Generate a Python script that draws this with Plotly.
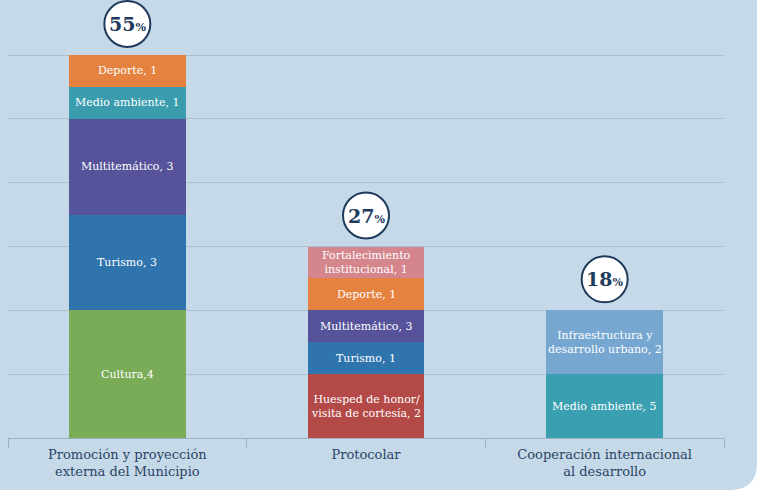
import plotly.graph_objects as go

categories = ["Promoción y proyección<br>externa del Municipio", "Protocolar",
              "Cooperación internacional<br>al desarrollo"]
percentages = [55, 27, 18]

promo_labels = ["Cultura,4", "Turismo, 3", "Multitemático, 3", "Medio ambiente, 1", "Deporte, 1"]
promo_heights = [4, 3, 3, 1, 1]
promo_colors = ["#7aab56", "#2f74ad", "#56539a", "#3a9cad", "#e5823f"]

proto_labels = ["Huesped de honor/<br>visita de cortesía, 2", "Turismo, 1", "Multitemático, 3",
                "Deporte, 1", "Fortalecimiento<br>institucional, 1"]
proto_heights = [2, 1, 1, 1, 1]
proto_colors = ["#b44a47", "#2f74ad", "#56539a", "#e5823f", "#d4868c"]

coop_labels = ["Medio ambiente, 5", "Infraestructura y<br>desarrollo urbano, 2"]
coop_heights = [2, 2]
coop_colors = ["#3a9fb0", "#76a7d1"]

groups = [
    (categories[0], promo_labels, promo_heights, promo_colors),
    (categories[1], proto_labels, proto_heights, proto_colors),
    (categories[2], coop_labels, coop_heights, coop_colors),
]

NAVY = "#1e3a5c"
FONT = "DejaVu Serif"

fig = go.Figure()
annotations = []
shapes = []

# plot area geometry (pixels)
L, R, T, B = 8, 724, 0, 438
W, H = R - L, B - T
YMAX = 12 * H / (438 - 55)


def px(X):
    return (X - L) / W


def py(Y):
    return (B - Y) / H


rx, ry = 27 / W, 27 / H
path = (f"M {px(0)},{py(0)} L {px(757)},{py(0)} L {px(757)},{py(490) + ry} "
        f"Q {px(757)},{py(490)} {px(757) - rx},{py(490)} L {px(0)},{py(490)} Z")
shapes.append(dict(type="path", xref="paper", yref="paper", path=path,
                   fillcolor="#c5d9e8", line=dict(width=0), layer="below"))

for gi, (cat, labels, heights, colors) in enumerate(groups):
    cum = 0
    for lab, h, c in zip(labels, heights, colors):
        fig.add_trace(go.Bar(x=[cat], y=[h], marker=dict(color=c, line=dict(width=0)),
                             width=0.49, showlegend=False, hoverinfo="skip"))
        annotations.append(dict(x=cat, y=cum + h / 2, xref="x", yref="y", text=lab,
                                showarrow=False,
                                font=dict(family=FONT, size=11, color="white")))
        cum += h
    total = cum
    shapes.append(dict(type="circle", xref="x", yref="y", xsizemode="pixel", ysizemode="pixel",
                       xanchor=gi, yanchor=total, x0=-23, x1=23, y0=8, y1=54,
                       fillcolor="white", line=dict(color=NAVY, width=2), layer="above"))
    annotations.append(dict(x=cat, y=total, xref="x", yref="y", yshift=31,
                            text=f"<b>{percentages[gi]}</b><b><span style='font-size:11px'>%</span></b>",
                            showarrow=False, font=dict(family=FONT, size=19, color=NAVY)))

fig.update_layout(
    barmode="stack",
    width=760, height=490,
    margin=dict(l=L, r=760 - R, t=T, b=490 - B, pad=0),
    paper_bgcolor="white",
    plot_bgcolor="rgba(0,0,0,0)",
    font=dict(family=FONT, color="#2a4465"),
    shapes=shapes,
    annotations=annotations,
    bargap=0.51,
)
fig.update_xaxes(type="category", showgrid=False, showline=True, linecolor="#9cb1c1",
                 linewidth=1, ticks="outside", tickson="boundaries", ticklen=9,
                 tickcolor="#9cb1c1", tickfont=dict(family=FONT, size=13, color="#2a4465"),
                 ticklabelstandoff=4, zeroline=False)
fig.update_yaxes(range=[0, YMAX], tickvals=[0, 2, 4, 6, 8, 10, 12], showgrid=True,
                 gridcolor="#a9c0d1", gridwidth=1,
                 showticklabels=False, zeroline=False, showline=False)

fig.write_html("out.html")
